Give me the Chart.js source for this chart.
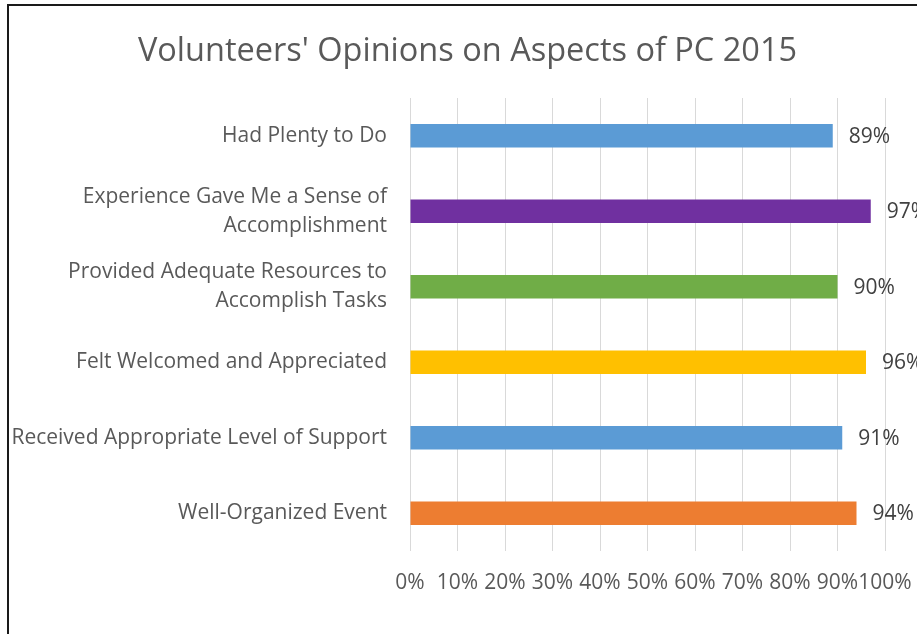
<!DOCTYPE html>
<html>
<head>
<meta charset="utf-8">
<title>Volunteers' Opinions on Aspects of PC 2015</title>
<script src="https://cdn.jsdelivr.net/npm/chart.js@4.4.1/dist/chart.umd.min.js"></script>
<style>
  html, body { margin: 0; padding: 0; background: #fff; }
  canvas { display: block; }
</style>
</head>
<body>
<canvas id="opinionChart" width="917" height="634"></canvas>
<script>
// chart data
const categories = [
  'Had Plenty to Do',
  ['Experience Gave Me a Sense of', 'Accomplishment'],
  ['Provided Adequate Resources to', 'Accomplish Tasks'],
  'Felt Welcomed and Appreciated',
  'Received Appropriate Level of Support',
  'Well-Organized Event'
];
const percentAgree = [89, 97, 90, 96, 91, 94];
const barColors = ['#5B9BD5', '#7030A0', '#70AD47', '#FFC000', '#5B9BD5', '#ED7D31'];
const tickValues = [0, 10, 20, 30, 40, 50, 60, 70, 80, 90, 100];

const FONT = "'Open Sans', Lato, sans-serif";
const el = (id) => document.getElementById(id);

// white background + the chart frame (runs off the right/bottom of the picture)
const framePlugin = {
  id: 'frame',
  beforeDraw(chart) {
    const { ctx, width, height } = chart;
    ctx.save();
    ctx.fillStyle = '#fff';
    ctx.fillRect(0, 0, width, height);
    ctx.strokeStyle = '#1a1a1a';
    ctx.lineWidth = 2;
    ctx.beginPath();
    ctx.moveTo(8, height);
    ctx.lineTo(8, 5);
    ctx.lineTo(width, 5);
    ctx.stroke();
    ctx.restore();
  }
};

// value labels at the end of each bar
const valueLabels = {
  id: 'valueLabels',
  afterDatasetsDraw(chart) {
    const { ctx } = chart;
    const meta = chart.getDatasetMeta(0);
    ctx.save();
    ctx.font = `21px ${FONT}`;
    ctx.fillStyle = '#404040';
    ctx.textAlign = 'left';
    ctx.textBaseline = 'middle';
    meta.data.forEach((bar, i) => {
      ctx.fillText(percentAgree[i] + '%', bar.x + 16, bar.y + 1);
    });
    ctx.restore();
  }
};

new Chart(el('opinionChart').getContext('2d'), {
  type: 'bar',
  data: {
    labels: categories,
    datasets: [{
      label: 'Percent',
      data: percentAgree,
      backgroundColor: barColors,
      borderWidth: 0,
      categoryPercentage: 1,
      barPercentage: 0.31
    }]
  },
  options: {
    indexAxis: 'y',
    responsive: false,
    animation: false,
    // the real chart frame runs past the right edge, so the title centre sits right of the canvas centre
    layout: { padding: { left: 5, right: -13, top: 0, bottom: 0 } },
    plugins: {
      legend: { display: false },
      tooltip: { enabled: false },
      title: {
        display: true,
        text: "Volunteers' Opinions on Aspects of PC 2015",
        color: '#595959',
        font: { family: FONT, size: 32.5, weight: 'normal', lineHeight: 1.2 },
        padding: { top: 32, bottom: 27 }
      }
    },
    scales: {
      x: {
        min: 0,
        max: 100,
        afterBuildTicks: (scale) => { scale.ticks = tickValues.map(v => ({ value: v })); },
        afterFit: (scale) => {
          scale.height = 83;
          scale.paddingLeft = 0;
          scale.paddingRight = 32;
        },
        grid: { color: '#d9d9d9', lineWidth: 1, drawTicks: false },
        border: { display: false },
        ticks: {
          color: '#595959',
          padding: 19,
          maxRotation: 0,
          autoSkip: false,
          font: { family: FONT, size: 21 },
          callback: (v) => v + '%'
        }
      },
      y: {
        afterFit: (scale) => { scale.width = 405; },
        grid: { display: false, drawTicks: false },
        border: { display: false },
        ticks: {
          color: '#595959',
          padding: 23,
          autoSkip: false,
          font: { family: FONT, size: 21, lineHeight: 1.38 }
        }
      }
    }
  },
  plugins: [framePlugin, valueLabels]
});
</script>
</body>
</html>
